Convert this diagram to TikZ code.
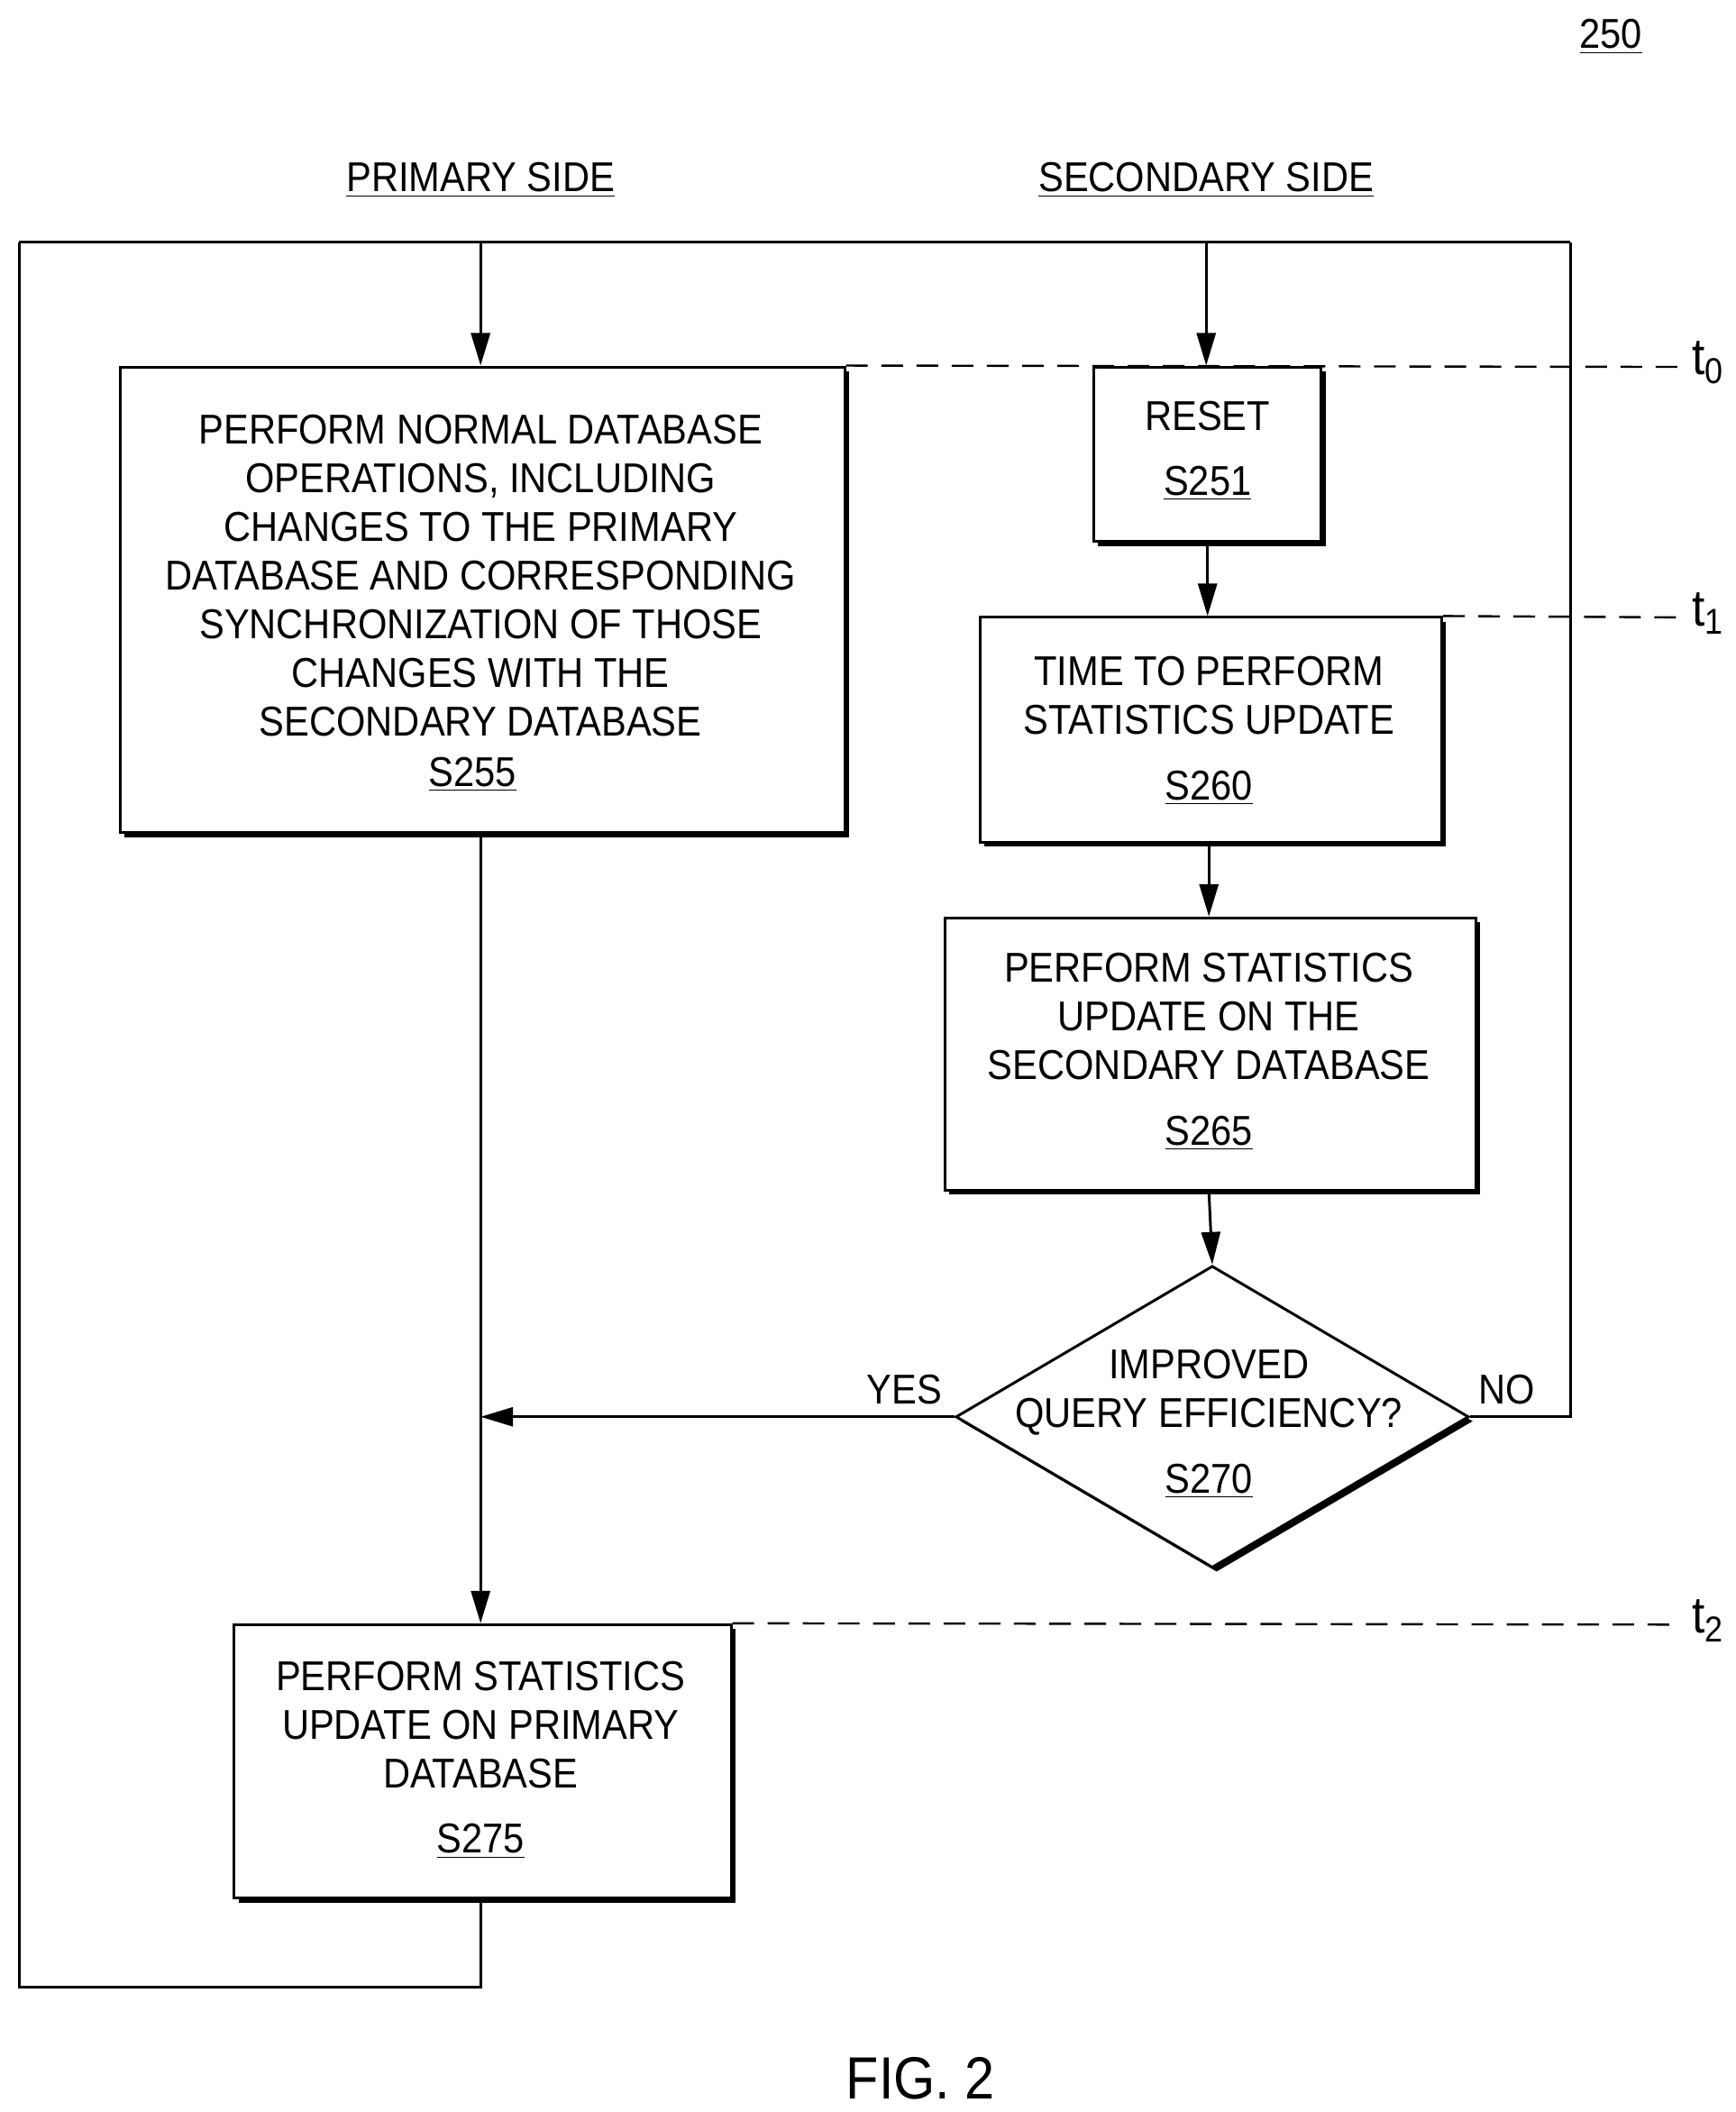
\documentclass[tikz,border=0pt]{standalone}
\usepackage{fontspec}
\setmainfont[FakeStretch=0.9]{Liberation Sans}
\usetikzlibrary{shapes.geometric,shadows,arrows.meta}
\begin{document}
\begin{tikzpicture}[x=0.5pt,y=-0.5pt,
  every node/.style={font=\fontsize{15.4}{18}\selectfont},
  box/.style={draw,line width=1pt,fill=white,align=center,inner sep=0pt,
    drop shadow={shadow xshift=1.6pt,shadow yshift=-1.6pt,fill=black,opacity=1}},
  ln/.style={line width=1pt},
  arr/.style={ln,-{Triangle[length=12pt,width=7pt]}},
  dsh/.style={line width=0.8pt,dash pattern=on 8pt off 5pt},
  lab/.style={inner sep=0pt}]
\useasboundingbox (0,0) rectangle (1282,1560);
\node[lab] (n250) at (1190,27) {\underline{250}};
\node[lab] (ps) at (355,133) {\underline{PRIMARY SIDE}};
\node[lab] (ss) at (891,133) {\underline{SECONDARY SIDE}};
\coordinate (c893) at (893,0);
\node[box,minimum width=267.5pt,minimum height=172pt] (s255) at (356.5,443) {};
\node[lab,align=center] at (355,425) {PERFORM NORMAL DATABASE\\OPERATIONS, INCLUDING\\CHANGES TO THE PRIMARY\\DATABASE AND CORRESPONDING\\SYNCHRONIZATION OF THOSE\\CHANGES WITH THE\\SECONDARY DATABASE};
\node[lab] at (349,572) {\underline{S255}};
\node[box,minimum width=84pt,minimum height=64.5pt] (s251) at (892,335.5) {};
\node[lab,align=center] at (892,333) {RESET\\[6pt]\underline{S251}};
\node[box,minimum width=170.5pt,minimum height=83pt] (s260) at (894.5,539) {};
\node[lab,align=center] at (893,540) {TIME TO PERFORM\\STATISTICS UPDATE\\[6pt]\underline{S260}};
\node[box,minimum width=196pt,minimum height=100.5pt] (s265) at (894,778.5) {};
\node[lab,align=center] at (893,777) {PERFORM STATISTICS\\UPDATE ON THE\\SECONDARY DATABASE\\[6pt]\underline{S265}};
\node[box,shape=diamond,minimum width=189.5pt,minimum height=111.5pt] (d) at (895.5,1046.5) {};
\node[lab,align=center] at (893,1052) {IMPROVED\\QUERY EFFICIENCY?\\[6pt]\underline{S270}};
\node[box,minimum width=183.5pt,minimum height=101pt] (s275) at (356.5,1301) {};
\node[lab,align=center] at (355,1300) {PERFORM STATISTICS\\UPDATE ON PRIMARY\\DATABASE\\[6pt]\underline{S275}};
\coordinate (tl) at (14,179); \coordinate (tr) at (1160,179);
\coordinate (bl) at (14,1468); \coordinate (bm) at (355,1468);
\coordinate (nr) at (1160,1046.5); \coordinate (ym) at (355,1046.5);
\draw[ln] (tl) -- (tr);
\draw[arr] (ps |- tl) -- (ps |- s255.north);
\draw[arr] (ss |- tl) -- (ss |- s251.north);
\draw[arr] (s251.south) -- (s251.south |- s260.north);
\draw[arr] (c893 |- s260.south) -- (c893 |- s265.north);
\draw[arr] (c893 |- s265.south) -- (d.north);
\draw[arr] (ps |- s255.south) -- (ps |- s275.north);
\draw[arr] (d.west) -- (ym);
\draw[ln] (d.east) -- (nr) -- (tr);
\draw[ln] (ps |- s275.south) -- (bm) -- (bl) -- (tl);
\node[lab,anchor=south] at (668,1038) {YES};
\node[lab,anchor=south] at (1113,1038) {NO};
\draw[dsh] (s255.north east) -- (1240,271);
\draw[dsh] (s260.north east) -- (1240,456);
\draw[dsh] (s275.north east) -- (1240,1200);
\node[lab,font=\fontsize{19}{22}\selectfont] at (1262,268) {t\textsubscript{0}};
\node[lab,font=\fontsize{19}{22}\selectfont] at (1262,453) {t\textsubscript{1}};
\node[lab,font=\fontsize{19}{22}\selectfont] at (1262,1197) {t\textsubscript{2}};
\node[lab,font=\fontsize{22}{26}\selectfont] at (680,1535) {FIG. 2};
\end{tikzpicture}
\end{document}
